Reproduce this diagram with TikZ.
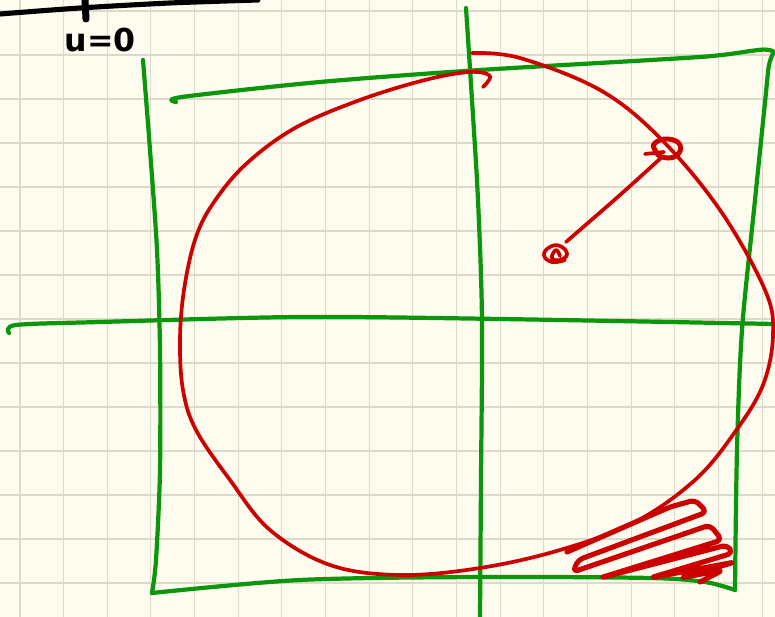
\documentclass[tikz,border=0pt]{standalone}
\usepackage{fontspec}
\setmainfont{DejaVu Sans}
\begin{document}
\begin{tikzpicture}[x=0.02cm,y=-0.02cm,
  gpen/.style={draw=penGreen,line width=2.4pt,line cap=round,line join=round},
  rpen/.style={draw=penRed,line width=2.1pt,line cap=round,line join=round},
  kpen/.style={draw=black,line width=2.9pt,line cap=round},
  gridline/.style={draw=gridCol,line width=0.6pt}]
\definecolor{paper}{HTML}{FDFCEE}
\definecolor{gridCol}{HTML}{DEDACB}
\definecolor{penGreen}{HTML}{0C960C}
\definecolor{penRed}{HTML}{CC0000}
\fill[paper] (0,0) rectangle (775,617);
\useasboundingbox (0,0) rectangle (775,617);
% grid
\foreach \k in {0,...,17} \draw[gridline] ({20+43.65*\k},0) -- ({20+43.65*\k},617);
\foreach \k in {0,...,13} \draw[gridline] (0,{11+44*\k}) -- (775,{11+44*\k});
% black top line and tick
\draw[kpen] plot[smooth] coordinates {(0,14) (80,8) (170,3) (258,0)};
\draw[black,line width=4pt,line cap=round] (85,0) -- (86,19);
\node[font=\bfseries\fontsize{18}{18}\selectfont,inner sep=0pt] (lbl) at (100,40) {u=0};
% green frame and axes
\draw[gpen] plot[smooth] coordinates {(143,60) (150,150) (157,250) (160,350) (160,470) (156,560) (152,593)};
\draw[gpen] plot[smooth] coordinates {(152,593) (300,580) (480,577) (650,578) (705,582) (735,590)};
\draw[gpen] plot[smooth] coordinates {(176,102) (182,97) (320,82) (480,70) (700,57) (769,50) (768,72) (755,200) (742,330) (737,450) (735,590)};
\draw[gpen] plot[smooth] coordinates {(9,333) (16,325) (100,322) (300,317) (500,319) (775,324)};
\draw[gpen] plot[smooth] coordinates {(466,8) (472,100) (478,200) (482,320) (481,480) (480,617)};
% red circle
\draw[rpen] plot[smooth,tension=0.6] coordinates {(472,53) (520,58) (600,90) (660,138) (720,210) (765,290) (773,335) (763,385) (735,432) (695,480) (635,522) (560,550) (480,568) (400,575) (330,565) (270,530) (230,480) (196,430) (183,390) (180,340) (184,290) (195,240) (212,205) (245,165) (295,128) (360,100) (425,80) (470,72) (490,76) (483,87)};
% red segment with loops
\draw[rpen] plot[smooth] coordinates {(566,242) (620,195) (662,157)};
\draw[rpen,line width=2.8pt] plot[smooth cycle,tension=0.8] coordinates {(655,143) (668,139) (680,145) (676,156) (662,157) (655,150)};
\draw[rpen] (645,154) -- (664,152);
\draw[rpen] plot[smooth,tension=0.8] coordinates {(560,256) (556,250) (552,258) (560,260) (567,254) (560,246) (550,247) (544,255) (552,262) (565,260)};
% hatching
\draw[rpen,line width=2.9pt,rounded corners=3pt] (567,552) -- (670,507) -- (695,500) -- (707,512) -- (578,560) -- (573,572) -- (710,525) -- (722,540) -- (600,578) -- (727,545) -- (733,553) -- (650,578) -- (735,562) -- (680,578) -- (723,570) -- (700,582);
\end{tikzpicture}
\end{document}
